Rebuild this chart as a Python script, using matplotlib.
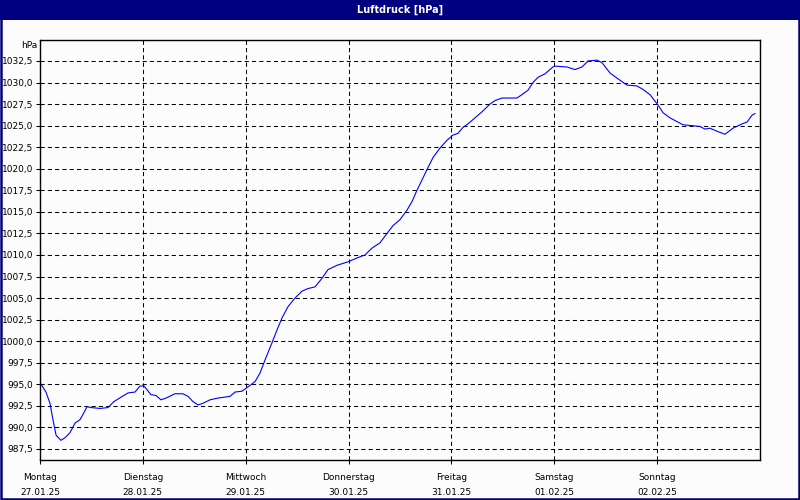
import matplotlib.pyplot as plt
from matplotlib.patches import Rectangle

# time in days since Monday 27.01.25 00:00, pressure in hPa
days = [0.0, 0.058, 0.097, 0.126, 0.156, 0.204, 0.243, 0.292, 0.340, 0.389,
        0.418, 0.457, 0.496, 0.583, 0.661, 0.719, 0.787, 0.856, 0.924, 0.972,
        1.011, 1.079, 1.128, 1.176, 1.225, 1.312, 1.390, 1.439, 1.487, 1.536,
        1.585, 1.653, 1.730, 1.847, 1.896, 1.964, 2.022, 2.090, 2.139, 2.168,
        2.187, 2.255, 2.304, 2.353, 2.411, 2.479, 2.547, 2.605, 2.674, 2.742,
        2.800, 2.887, 2.994, 3.092, 3.160, 3.228, 3.305, 3.374, 3.432, 3.500,
        3.568, 3.617, 3.665, 3.714, 3.762, 3.821, 3.889, 3.957, 4.015, 4.064,
        4.112, 4.161, 4.229, 4.297, 4.375, 4.423, 4.491, 4.637, 4.686, 4.744,
        4.793, 4.841, 4.909, 4.987, 5.007, 5.123, 5.201, 5.269, 5.328, 5.415,
        5.464, 5.542, 5.610, 5.707, 5.804, 5.862, 5.930, 6.008, 6.057, 6.125,
        6.251, 6.339, 6.416, 6.465, 6.514, 6.592, 6.660, 6.737, 6.825, 6.873,
        6.922, 6.951]
pressure = [995.2, 994.1, 992.8, 990.9, 989.1, 988.5, 988.8, 989.4, 990.5, 990.9,
            991.5, 992.4, 992.3, 992.2, 992.3, 993.0, 993.5, 994.0, 994.1, 994.8,
            994.8, 993.8, 993.7, 993.2, 993.4, 993.9, 993.9, 993.6, 993.0, 992.6,
            992.8, 993.2, 993.4, 993.6, 994.1, 994.2, 994.7, 995.3, 996.3, 997.2,
            997.8, 999.8, 1001.3, 1002.7, 1004.0, 1005.0, 1005.8, 1006.1, 1006.3, 1007.3,
            1008.3, 1008.8, 1009.2, 1009.7, 1010.0, 1010.8, 1011.4, 1012.5, 1013.4, 1014.1,
            1015.2, 1016.2, 1017.5, 1018.7, 1019.9, 1021.3, 1022.4, 1023.3, 1023.9, 1024.1,
            1024.8, 1025.2, 1025.9, 1026.6, 1027.5, 1027.9, 1028.2, 1028.2, 1028.6, 1029.1,
            1030.0, 1030.6, 1031.0, 1031.8, 1031.9, 1031.8, 1031.5, 1031.8, 1032.5, 1032.6,
            1032.3, 1031.1, 1030.5, 1029.7, 1029.6, 1029.2, 1028.6, 1027.4, 1026.5, 1025.9,
            1025.1, 1025.0, 1024.9, 1024.6, 1024.7, 1024.3, 1024.0, 1024.7, 1025.2, 1025.4,
            1026.2, 1026.4]

day_names = ["Montag", "Dienstag", "Mittwoch", "Donnerstag", "Freitag", "Samstag", "Sonntag"]
dates = ["27.01.25", "28.01.25", "29.01.25", "30.01.25", "31.01.25", "01.02.25", "02.02.25"]
y_ticks = [987.5 + 2.5 * i for i in range(19)]

NAVY = "#000080"
plt.rcParams["font.family"] = ["DejaVu Sans"]

fig = plt.figure(figsize=(8, 5), dpi=100, facecolor="#fcfcfc")

# title bar and outer border
fig.patches.append(Rectangle((0, 1 - 20 / 500), 1, 20 / 500, transform=fig.transFigure,
                             facecolor=NAVY, edgecolor="none", zorder=0))
fig.patches.append(Rectangle((0.001, 0.002), 0.998, 0.996, transform=fig.transFigure,
                             facecolor="none", edgecolor=NAVY, linewidth=1.8, zorder=5))
fig.text(0.5, 1 - 10 / 500, "Luftdruck [hPa]", color="white", fontsize=7, fontweight="bold",
         ha="center", va="center")

ax = fig.add_axes([40 / 800, 40 / 500, 720 / 800, 420 / 500])
ax.set_facecolor("#fcfcfc")
ax.plot(days, pressure, color="#0000ff", linewidth=0.8)

ax.set_xlim(0, 7)
ax.set_ylim(986.22, 1034.93)
ax.set_yticks(y_ticks)
ax.set_yticklabels([f"{v:.1f}".replace(".", ",") for v in y_ticks])
ax.set_xticks(range(7))
ax.set_xticklabels([f"{n}\n\n{d}" for n, d in zip(day_names, dates)], linespacing=0.85)

ax.grid(True, color="black", linestyle=(0, (4, 3)), linewidth=0.75)
ax.tick_params(axis="both", labelsize=6.5, length=3, width=0.75, color="black", pad=2)
ax.tick_params(axis="x", pad=6)
for spine in ax.spines.values():
    spine.set_linewidth(1.0)
    spine.set_color("black")

fig.text(37 / 800, 1 - 45 / 500, "hPa", fontsize=6.5, ha="right", va="center")

fig.savefig("out.png", dpi=100, facecolor=fig.get_facecolor())
